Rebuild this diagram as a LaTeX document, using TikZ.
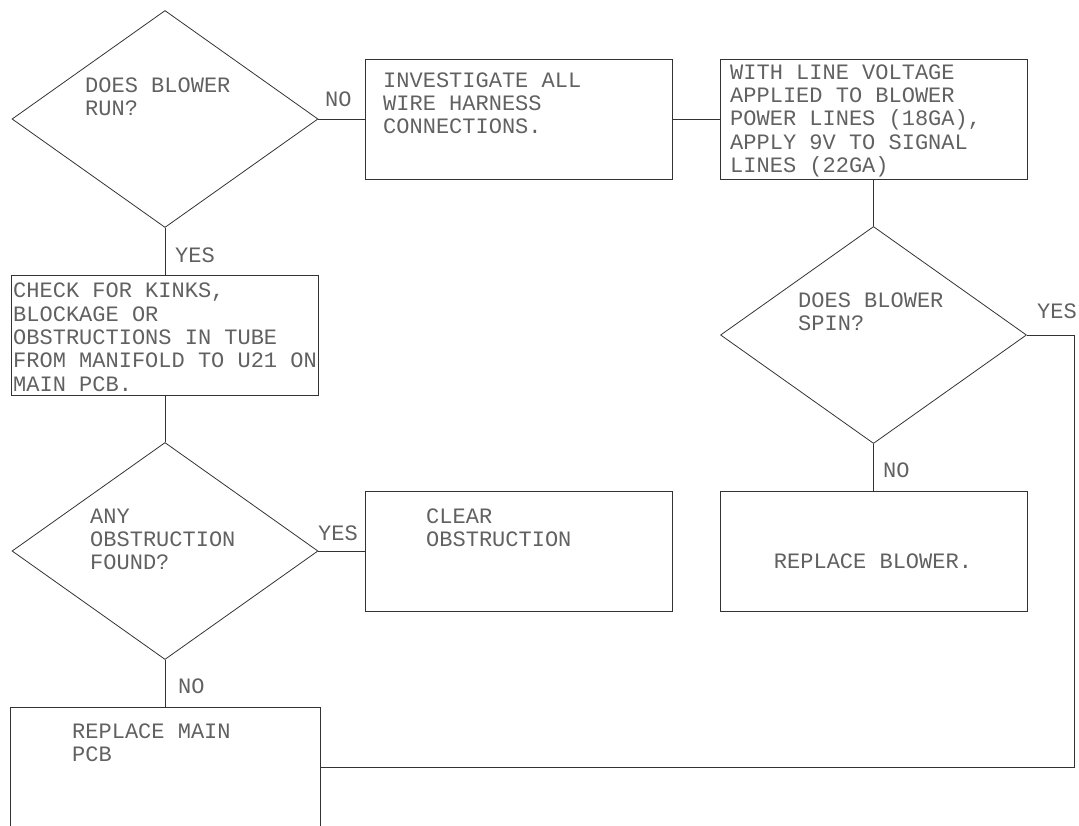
\documentclass[tikz,border=0pt]{standalone}
\usepackage{fontspec}
\setmonofont{Liberation Mono}
\usetikzlibrary{shapes.geometric}
\begin{document}
\begin{tikzpicture}[x=1pt,y=-1pt,
  wire/.style={draw=black!80, line width=0.8pt},
  stepbox/.style={wire, rectangle, inner sep=0pt, minimum width=307pt, minimum height=120pt},
  query/.style={wire, diamond, inner sep=0pt, minimum width=306pt, minimum height=217pt},
  % multi-line captions are placed by the baseline of their last line
  caption/.style={anchor=base west, inner sep=0pt, align=left, text=black!62,
    font=\ttfamily\fontsize{22}{23.3}\selectfont},
]
\useasboundingbox (0,0) rectangle (1079,825);

% decision diamonds
\node[query] (d1) at (165,119) {};
\node[query] (d2) at (873.5,335) {};
\node[query] (d3) at (165,551) {};

% action boxes
\node[stepbox] (b2) at (518.5,119) {};
\node[stepbox] (b3) at (873.5,119) {};
\node[stepbox] (b4) at (165,335) {};
\node[stepbox] (b5) at (518.5,551) {};
\node[stepbox] (b7) at (873.5,551) {};
\node[stepbox, minimum width=310pt] (b6) at (165,767) {};

% texts
\node[caption] (t1) at (85,115.3) {DOES BLOWER\\RUN?};
\node[caption] (t2) at (383,133.6) {INVESTIGATE ALL\\WIRE HARNESS\\CONNECTIONS.};
\node[caption] (t3) at (730,172.5) {WITH LINE VOLTAGE\\APPLIED TO BLOWER\\POWER LINES (18GA),\\APPLY 9V TO SIGNAL\\LINES (22GA)};
\node[caption] (t4) at (13,391) {CHECK FOR KINKS,\\BLOCKAGE OR\\OBSTRUCTIONS IN TUBE\\FROM MANIFOLD TO U21 ON\\MAIN PCB.};
\node[caption] (t5) at (798,330.3) {DOES BLOWER\\SPIN?};
\node[caption, anchor=base] (t6) at (873,568) {REPLACE BLOWER.};
\node[caption] (t7) at (90,569.6) {ANY\\OBSTRUCTION\\FOUND?};
\node[caption] (t8) at (426,546.3) {CLEAR\\OBSTRUCTION};
\node[caption] (t9) at (72,761.3) {REPLACE MAIN\\PCB};

% branch labels
\node[caption] (l1) at (325,106) {NO};
\node[caption] (l2) at (175,262) {YES};
\node[caption] (l3) at (1037,318) {YES};
\node[caption] (l4) at (883,477) {NO};
\node[caption] (l5) at (318,540) {YES};
\node[caption] (l6) at (178,693) {NO};

% connectors
\coordinate (corner) at (1074,335);
\draw[wire] (d1.east) -- (b2.west);
\draw[wire] (b2.east) -- (b3.west);
\draw[wire] (b3.south) -- (d2.north);
\draw[wire] (d2.south) -- (b7.north);
\draw[wire] (d2.east) -- (corner) |- (b6.east);
\draw[wire] (d1.south) -- (b4.north);
\draw[wire] (b4.south) -- (d3.north);
\draw[wire] (d3.east) -- (b5.west);
\draw[wire] (d3.south) -- (b6.north);
\end{tikzpicture}
\end{document}
